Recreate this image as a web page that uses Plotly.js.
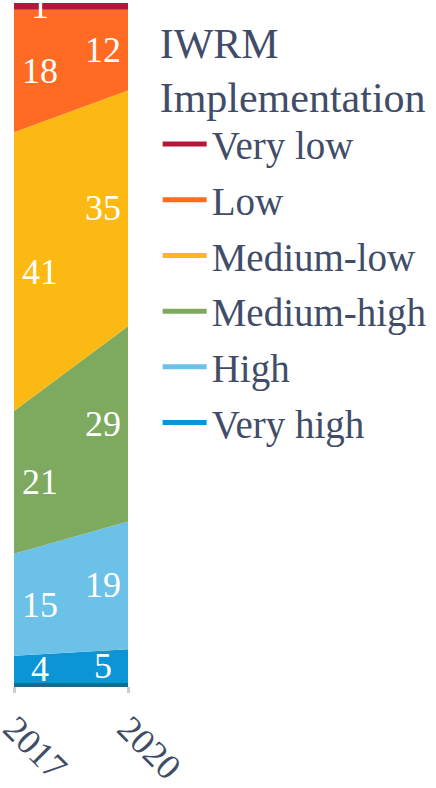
<!DOCTYPE html>
<html>
<head>
<meta charset="utf-8">
<script src="https://cdn.plot.ly/plotly-3.0.1.min.js"></script>
<style>html,body{margin:0;padding:0;background:#fff;}#chart{width:436px;height:788px;}</style>
</head>
<body>
<div id="chart"></div>
<script>
// Data
const years = [2017, 2020];
const seriesNames = ["Very high", "High", "Medium-high", "Medium-low", "Low", "Very low"];
const veryHigh = [4, 5];
const high = [15, 19];
const mediumHigh = [21, 29];
const mediumLow = [41, 35];
const low = [18, 12];
const veryLow = [1, 1];
const shownLabels = {
  "Very high": ["4", "5"],
  "High": ["15", "19"],
  "Medium-high": ["21", "29"],
  "Medium-low": ["41", "35"],
  "Low": ["18", "12"],
  "Very low": ["1", ""]
};
const colors = ["#0b95d6", "#6bc1e7", "#7daa5f", "#fdb913", "#ff6b23", "#b5173c"];

const seriesValues = [veryHigh, high, mediumHigh, mediumLow, low, veryLow];
const serifFamily = "Liberation Serif";

const traces = [];
seriesNames.forEach((name, i) => {
  traces.push({
    type: "scatter", mode: "lines", x: years, y: seriesValues[i],
    stackgroup: "one", groupnorm: "percent",
    fillcolor: colors[i], line: {color: colors[i], width: 0},
    name: name, showlegend: false, hoverinfo: "skip"
  });
});
// legend-only line entries, top to bottom: Very low ... Very high
for (let i = seriesNames.length - 1; i >= 0; i--) {
  traces.push({
    type: "scatter", mode: "lines", x: [null], y: [null],
    line: {color: colors[i], width: 5}, name: seriesNames[i],
    legendgroup: seriesNames[i], showlegend: true
  });
}

// label annotations at the middle of each band (normalized)
const totals = years.map((_, j) => seriesValues.reduce((s, v) => s + v[j], 0));
const annotations = [];
years.forEach((yr, j) => {
  let cum = 0;
  seriesNames.forEach((name, i) => {
    const v = seriesValues[i][j] / totals[j] * 100;
    const mid = cum + v / 2;
    cum += v;
    const t = shownLabels[name][j];
    if (t) {
      annotations.push({
        x: yr, y: mid, xref: "x", yref: "y", text: t, showarrow: false,
        xshift: j === 0 ? 26 : -25,
        font: {family: serifFamily, size: 36, color: "#ffffff"}
      });
    }
  });
});

const layout = {
  width: 436, height: 788,
  margin: {l: 14, r: 308, t: 3, b: 105},
  paper_bgcolor: "#ffffff", plot_bgcolor: "#ffffff",
  font: {family: serifFamily, color: "#414d68"},
  xaxis: {
    range: [2017, 2020], tickvals: years, ticktext: years.map(String),
    tickangle: 45, showgrid: false, zeroline: false,
    showline: true, linecolor: "#1d6890", linewidth: 4,
    ticks: "outside", ticklen: 6, tickwidth: 3, tickcolor: "#cccccc",
    ticklabeloverflow: "allow",
    tickfont: {family: serifFamily, size: 36, color: "#414d68"}
  },
  yaxis: {range: [0, 100], visible: false, showgrid: false, zeroline: false},
  showlegend: true,
  legend: {
    x: 1.26, xanchor: "left", y: 1, yanchor: "top",
    traceorder: "grouped", tracegroupgap: 2, itemwidth: 44,
    font: {family: serifFamily, size: 39, color: "#414d68"},
    title: {text: "IWRM<br>Implementation", font: {family: serifFamily, size: 42, color: "#414d68"}},
    bgcolor: "rgba(0,0,0,0)"
  },
  annotations: annotations
};

Plotly.newPlot("chart", traces, layout, {displayModeBar: false, staticPlot: true});
</script>
</body>
</html>
